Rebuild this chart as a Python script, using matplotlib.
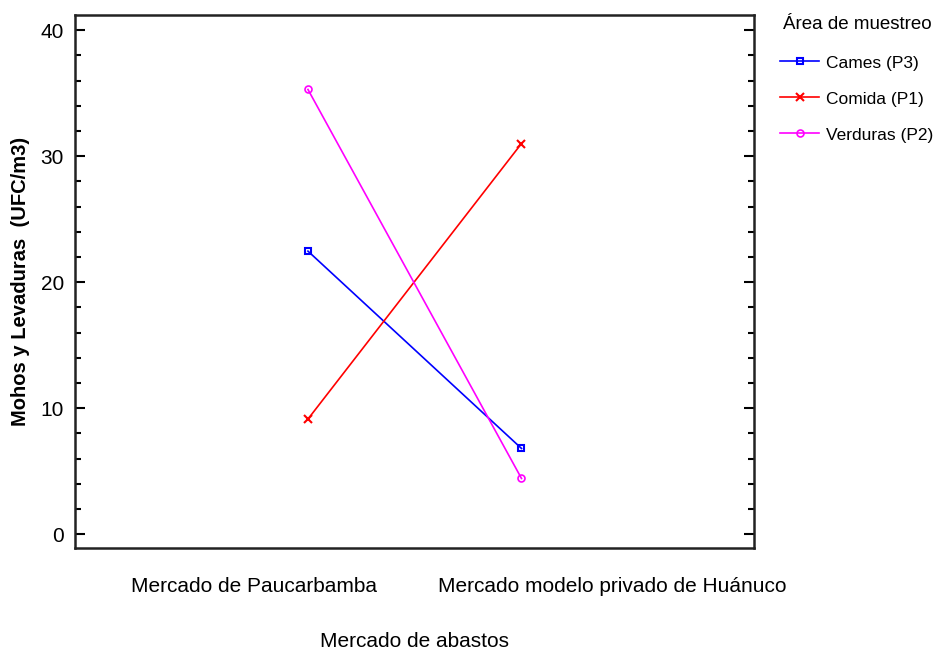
import matplotlib
matplotlib.use('Agg')
import matplotlib.pyplot as plt
from matplotlib.ticker import MultipleLocator

# Mercados (eje x) y recuentos por área de muestreo
mercados = ['Mercado de Paucarbamba', 'Mercado modelo privado de Huánuco']
carnes = [22.46, 6.80]
comida = [9.13, 31.0]
verduras = [35.29, 4.42]

fuente = ['Liberation Sans', 'DejaVu Sans']

fig = plt.figure(figsize=(9.41, 6.58), dpi=100)
ax = fig.add_axes([0.0797, 0.167, 0.7216, 0.810])

x = [0, 1]
ax.plot(x, carnes, color='#0000ff', lw=1.2, marker='s', ms=5, mfc='none', mew=1.5, label='Cames (P3)')
ax.plot(x, comida, color='#ff0000', lw=1.2, marker='x', ms=6, mew=1.5, label='Comida (P1)')
ax.plot(x, verduras, color='#ff00ff', lw=1.2, marker='o', ms=5, mfc='none', mew=1.2, label='Verduras (P2)')

ax.set_xlim(-1.091, 2.089)
ax.set_ylim(-1.11, 41.19)

# etiquetas de los mercados desplazadas respecto a los puntos
ax.set_xticks([-0.253, 1.424])
ax.set_xticklabels(mercados, family=fuente, fontsize=15)
ax.tick_params(axis='x', length=0, pad=21)

ax.yaxis.set_major_locator(MultipleLocator(10))
ax.yaxis.set_minor_locator(MultipleLocator(2))
ax.tick_params(axis='y', which='major', direction='in', length=7, width=1.5, right=True, pad=8)
ax.tick_params(axis='y', which='minor', direction='in', length=4, width=1.5, right=True)
for lab in ax.get_yticklabels():
    lab.set_family(fuente)
    lab.set_fontsize(15)

for s in ax.spines.values():
    s.set_linewidth(1.8)
    s.set_color('#222222')

ax.set_xlabel('Mercado de abastos', family=fuente, fontsize=15, labelpad=26)
ax.set_ylabel('Mohos y Levaduras  (UFC/m3)', family=fuente, fontsize=14.5, fontweight='bold')
ax.yaxis.set_label_coords(-0.066, 0.5)

leg = fig.legend(loc='upper left', bbox_to_anchor=(0.822, 0.986), frameon=False,
                 title='Área de muestreo', prop={'family': fuente, 'size': 12.5},
                 handlelength=2.2, labelspacing=1.2, handletextpad=0.45, borderaxespad=0)
leg.get_title().set_family(fuente)
leg.get_title().set_fontsize(13.5)
leg._legend_box.sep = 16

plt.savefig('out.png', dpi=100)
